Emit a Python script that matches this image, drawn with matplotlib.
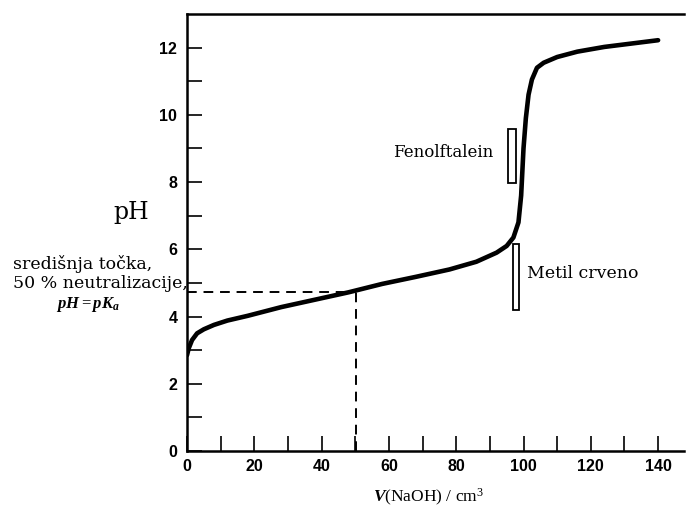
import numpy as np
import matplotlib
matplotlib.use("Agg")
import matplotlib.pyplot as plt
from matplotlib.patches import Rectangle

plt.rcParams["mathtext.fontset"] = "custom"
plt.rcParams["mathtext.it"] = "Liberation Serif:italic:bold"
plt.rcParams["mathtext.rm"] = "Liberation Serif"

# titration curve
V_NAOH = [0, 0.5, 1.5, 3, 5, 8, 12, 18, 28, 38, 48, 58, 68, 78, 86, 92, 95, 97,
          98.5, 99.3, 100, 100.7, 101.5, 102.5, 104, 106, 110, 116, 124, 132, 140]
PH = [2.85, 3.05, 3.3, 3.5, 3.62, 3.75, 3.88, 4.02, 4.28, 4.5, 4.72, 4.97, 5.18,
      5.4, 5.63, 5.9, 6.1, 6.35, 6.8, 7.6, 9.0, 9.9, 10.6, 11.05, 11.4, 11.55,
      11.72, 11.88, 12.02, 12.12, 12.22]

HALF_V = 50.3
HALF_PH = 4.72

# indicator ranges: name, x left, width, pH low, pH high
INDICATORS = [
	("Fenolftalein", 95.4, 2.3, 7.98, 9.58),
	("Metil crveno", 96.9, 1.9, 4.18, 6.17),
]

X_TICKS = np.arange(0, 141, 10)
X_LABELS = [str(v) if v % 20 == 0 else "" for v in X_TICKS]
Y_TICKS = np.arange(0, 13, 1)
Y_LABELS = [str(v) if v % 2 == 0 else "" for v in Y_TICKS]

fig = plt.figure(figsize=(6.86, 5.09), dpi=100)
ax = fig.add_axes([0.2726, 0.114, 0.7245, 0.8585])

ax.plot(V_NAOH, PH, color="black", lw=3.3, solid_capstyle="round")

ax.plot([0, HALF_V], [HALF_PH, HALF_PH], color="black", lw=1.4, ls=(0, (5, 3.5)))
ax.plot([HALF_V, HALF_V], [0, HALF_PH], color="black", lw=1.4, ls=(0, (5, 3.5)))

for name, x0, w, lo, hi in INDICATORS:
	ax.add_patch(Rectangle((x0, lo), w, hi - lo, fill=False, ec="black", lw=1.3))

ax.text(91, 8.87, "Fenolftalein", family="DejaVu Serif", fontsize=12,
        ha="right", va="center")
ax.text(101, 5.28, "Metil crveno", family="DejaVu Serif", fontsize=12.5,
        ha="left", va="center")

ax.text(-16.6, 7.09, "pH", family="DejaVu Serif", fontsize=17,
        ha="center", va="center", clip_on=False)
ax.text(-51.7, 5.55, "središnja točka,", family="DejaVu Serif", fontsize=12.5,
        ha="left", va="center", clip_on=False)
ax.text(-51.7, 4.98, "50 % neutralizacije,", family="DejaVu Serif", fontsize=12.5,
        ha="left", va="center", clip_on=False)
ax.text(-29.5, 4.35, r"$pH = pK_a$", fontsize=12,
        ha="center", va="center", clip_on=False)

ax.set_xlim(0, 147.7)
ax.set_ylim(0, 13)
ax.set_xticks(X_TICKS)
ax.set_xticklabels(X_LABELS)
ax.set_yticks(Y_TICKS)
ax.set_yticklabels(Y_LABELS)
for lab in ax.get_xticklabels() + ax.get_yticklabels():
	lab.set_family("Liberation Sans")
	lab.set_fontweight("bold")
	lab.set_fontsize(11.5)
ax.tick_params(axis="y", direction="in", length=11, width=1.2, pad=7)
ax.tick_params(axis="x", direction="in", length=11, width=1.2, pad=6)

ax.spines["right"].set_visible(False)
for s in ("left", "bottom", "top"):
	ax.spines[s].set_linewidth(1.8)

ax.set_xlabel(r"$V$(NaOH) / cm$^3$", family="Liberation Serif", fontsize=12.5)
ax.xaxis.set_label_coords(0.485, -0.082)

fig.savefig("out.png", dpi=100)
